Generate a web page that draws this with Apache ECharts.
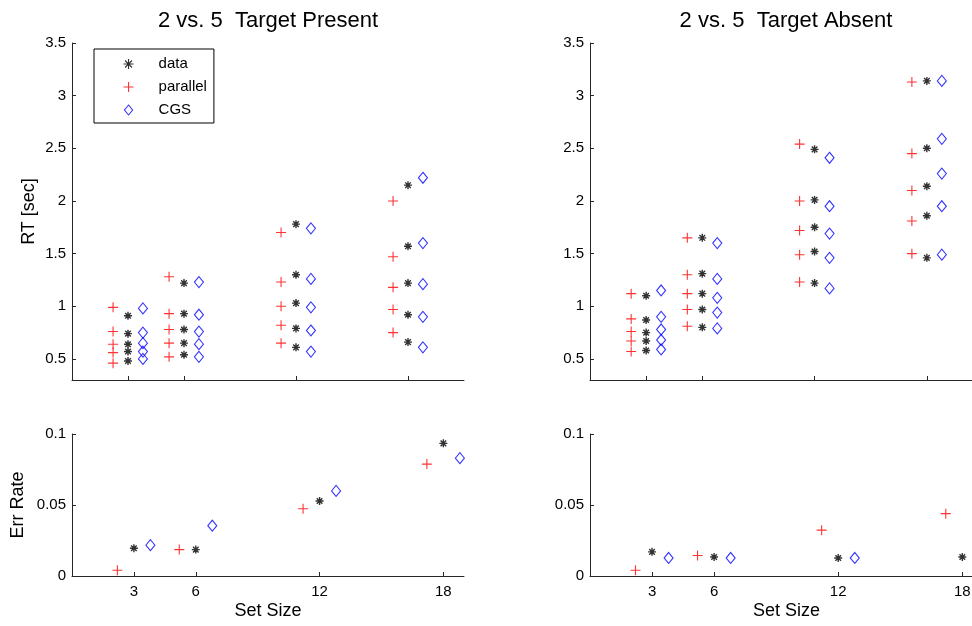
<!DOCTYPE html>
<html>
<head>
<meta charset="utf-8">
<title>2 vs. 5 - RT and error rate</title>
<script src="https://cdn.jsdelivr.net/npm/echarts@6/dist/echarts.min.js"></script>
<style>
    html, body { margin: 0; padding: 0; background: #ffffff; }
    #main { width: 972px; height: 626px; }
</style>
</head>
<body>
<div id="main"></div>
<script>
// x axis: set sizes
var setSizes = [3, 6, 12, 18];
var rtTicks = [0.5, 1, 1.5, 2, 2.5, 3, 3.5];

// RT [sec], one row per set size, 5 points per row
var rtPresentData     = [[0.91, 0.74, 0.64, 0.57, 0.48], [1.22, 0.93, 0.78, 0.65, 0.54], [1.78, 1.30, 1.03, 0.79, 0.61], [2.15, 1.57, 1.22, 0.92, 0.66]];
var rtPresentParallel = [[0.99, 0.76, 0.64, 0.56, 0.46], [1.28, 0.93, 0.78, 0.65, 0.52], [1.70, 1.23, 1.00, 0.82, 0.65], [2.00, 1.47, 1.18, 0.97, 0.75]];
var rtPresentCGS      = [[0.98, 0.75, 0.65, 0.57, 0.50], [1.23, 0.92, 0.76, 0.64, 0.52], [1.74, 1.26, 0.99, 0.77, 0.57], [2.22, 1.60, 1.21, 0.90, 0.61]];

var rtAbsentData     = [[1.10, 0.87, 0.75, 0.67, 0.58], [1.65, 1.31, 1.12, 0.97, 0.80], [2.49, 2.01, 1.75, 1.52, 1.22], [3.14, 2.50, 2.14, 1.86, 1.46]];
var rtAbsentParallel = [[1.12, 0.88, 0.76, 0.67, 0.57], [1.65, 1.30, 1.12, 0.97, 0.81], [2.54, 2.00, 1.72, 1.49, 1.23], [3.13, 2.45, 2.10, 1.81, 1.50]];
var rtAbsentCGS      = [[1.15, 0.90, 0.78, 0.68, 0.59], [1.60, 1.26, 1.08, 0.94, 0.79], [2.41, 1.95, 1.69, 1.46, 1.17], [3.14, 2.59, 2.26, 1.95, 1.49]];

// error rate, one value per set size
var errPresentData     = [0.0195, 0.0186, 0.0528, 0.0934];
var errPresentParallel = [0.0040, 0.0186, 0.0474, 0.0788];
var errPresentCGS      = [0.0217, 0.0354, 0.0599, 0.0830];

var errAbsentData     = [0.0170, 0.0134, 0.0127, 0.0134];
var errAbsentParallel = [0.0040, 0.0144, 0.0323, 0.0439];
var errAbsentCGS      = [0.0127, 0.0127, 0.0127, null]; // last one is off the picture

// models are drawn side by side around each set size
var modelShift = { data: 0, parallel: -0.8, CGS: 0.8 };

// matlab-like markers: '*', '+' and hollow diamond
var STAR = 'path://M0,5L10,5M5,0L5,10M1.5,1.5L8.5,8.5M8.5,1.5L1.5,8.5';
var PLUS = 'path://M0,5L10,5M5,0L5,10';
var DIAMOND = 'path://M4.5,0L9,5.5L4.5,11L0,5.5Z';
var markers = {
    data: { symbol: STAR, size: 8, color: '#000000', width: 1.4 },
    parallel: { symbol: PLUS, size: 10, color: '#ff0000', width: 1.1 },
    CGS: { symbol: DIAMOND, size: [9, 11], color: '#0000ff', width: 1.1 }
};

var FONT = '"Liberation Sans", Arial, Helvetica, sans-serif';
var AXIS_COLOR = '#262626';

// turns rows of values into [x, y] points
function rtPoints(rows, model) {
    var pts = [];
    rows.forEach(function (row, i) {
        row.forEach(function (v) {
            pts.push([setSizes[i] + modelShift[model], v]);
        });
    });
    return pts;
}

function errPoints(values, model) {
    var pts = [];
    values.forEach(function (v, i) {
        if (v !== null) pts.push([setSizes[i] + modelShift[model], v]);
    });
    return pts;
}

function makeSeries(model, points, axisIndex) {
    var m = markers[model];
    return {
        name: model,
        type: 'scatter',
        xAxisIndex: axisIndex,
        yAxisIndex: axisIndex,
        data: points,
        symbol: m.symbol,
        symbolSize: m.size,
        itemStyle: { color: 'transparent', borderColor: m.color, borderWidth: m.width },
        emphasis: { disabled: true },
        silent: true
    };
}

function makeXAxis(gridIndex, max, withLabels) {
    return {
        type: 'value',
        gridIndex: gridIndex,
        min: 0,
        max: max,
        name: withLabels ? 'Set Size' : '',
        nameLocation: 'middle',
        nameGap: 26,
        nameTextStyle: { fontSize: 18, color: '#000', fontFamily: FONT },
        axisLine: { show: true, onZero: false, lineStyle: { color: AXIS_COLOR, width: 1 } },
        axisTick: { show: true, inside: true, length: 4, customValues: setSizes, lineStyle: { color: AXIS_COLOR } },
        axisLabel: { show: withLabels, customValues: setSizes, margin: 8, fontSize: 15, color: '#000', fontFamily: FONT },
        splitLine: { show: false }
    };
}

function makeYAxis(gridIndex, isRT, name, gap) {
    var axis = {
        type: 'value',
        gridIndex: gridIndex,
        name: name,
        nameLocation: 'middle',
        nameRotate: 90,
        nameGap: gap,
        nameTextStyle: { fontSize: 18, color: '#000', fontFamily: FONT },
        axisLine: { show: true, onZero: false, lineStyle: { color: AXIS_COLOR, width: 1 } },
        axisTick: { show: true, inside: true, length: 4, lineStyle: { color: AXIS_COLOR } },
        axisLabel: { margin: 6, fontSize: 15, color: '#000', fontFamily: FONT },
        splitLine: { show: false }
    };
    if (isRT) {
        axis.min = 0.3;
        axis.max = 3.5;
        axis.axisTick.customValues = rtTicks;
        axis.axisLabel.customValues = rtTicks;
    } else {
        axis.min = 0;
        axis.max = 0.1;
        axis.interval = 0.05;
    }
    return axis;
}

var series = [];
[[rtPresentData, rtPresentParallel, rtPresentCGS], [rtAbsentData, rtAbsentParallel, rtAbsentCGS]].forEach(function (set, p) {
    series.push(makeSeries('data', rtPoints(set[0], 'data'), p));
    series.push(makeSeries('parallel', rtPoints(set[1], 'parallel'), p));
    series.push(makeSeries('CGS', rtPoints(set[2], 'CGS'), p));
});
[[errPresentData, errPresentParallel, errPresentCGS], [errAbsentData, errAbsentParallel, errAbsentCGS]].forEach(function (set, p) {
    series.push(makeSeries('data', errPoints(set[0], 'data'), p + 2));
    series.push(makeSeries('parallel', errPoints(set[1], 'parallel'), p + 2));
    series.push(makeSeries('CGS', errPoints(set[2], 'CGS'), p + 2));
});

var chart = echarts.init(document.getElementById('main'), null, { renderer: 'canvas' });
var option = {
    animation: false,
    backgroundColor: '#ffffff',
    textStyle: { fontFamily: FONT },
    title: [
        { text: '2 vs. 5  Target Present', left: 268, top: 21, textAlign: 'center', textVerticalAlign: 'middle', padding: 0,
          textStyle: { fontSize: 22, fontWeight: 'normal', color: '#000', fontFamily: FONT } },
        { text: '2 vs. 5  Target Absent', left: 786, top: 21, textAlign: 'center', textVerticalAlign: 'middle', padding: 0,
          textStyle: { fontSize: 22, fontWeight: 'normal', color: '#000', fontFamily: FONT } }
    ],
    legend: {
        data: ['data', 'parallel', 'CGS'],
        orient: 'vertical',
        left: 94,
        top: 49,
        // icons keep their aspect inside the 50px slot, so the box starts at the icon
        padding: [6, 7, 4, 29],
        itemWidth: 50,
        itemHeight: 10,
        itemGap: 5,
        borderColor: '#000',
        borderWidth: 1,
        selectedMode: false,
        itemStyle: { borderWidth: 1.1 },
        textStyle: { fontSize: 15, lineHeight: 18, color: '#000', fontFamily: FONT }
    },
    grid: [
        { left: 72, top: 43, width: 392, height: 337, outerBoundsMode: 'none' },
        { left: 590, top: 43, width: 393, height: 337, outerBoundsMode: 'none' },
        { left: 72, top: 434, width: 392, height: 142, outerBoundsMode: 'none' },
        { left: 590, top: 434, width: 393, height: 142, outerBoundsMode: 'none' }
    ],
    xAxis: [
        makeXAxis(0, 21, false),
        makeXAxis(1, 21, false),
        makeXAxis(2, 19, true),
        makeXAxis(3, 19, true)
    ],
    yAxis: [
        makeYAxis(0, true, 'RT [sec]', 34),
        makeYAxis(1, true, '', 0),
        makeYAxis(2, false, 'Err Rate', 45),
        makeYAxis(3, false, '', 0)
    ],
    series: series
};
chart.setOption(option);
</script>
</body>
</html>
